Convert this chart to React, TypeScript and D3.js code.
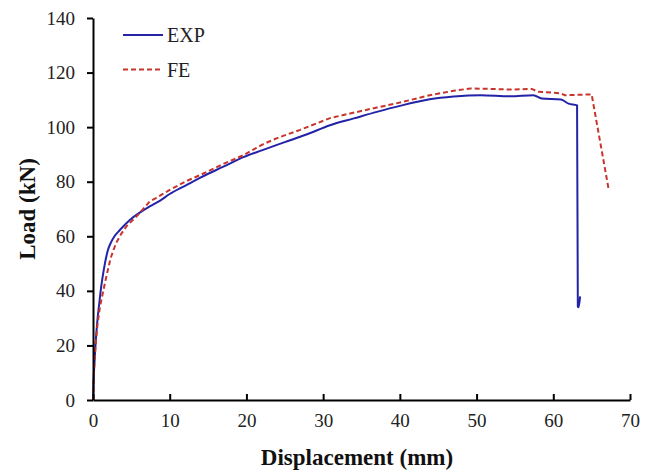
import React, { useEffect, useRef } from 'react'
import * as d3 from 'd3'

const expDisp = [0, 0.05, 0.12, 0.22, 0.32, 0.45, 0.6, 0.8, 1.0, 1.25, 1.55, 1.95, 2.3, 2.8, 3.5, 4.8, 6, 7.4, 8.7, 10, 12, 14, 17, 19.6, 22, 25, 28, 30.9, 34, 37, 40, 43.9, 47, 50.5, 54.4, 57.4, 58.5, 61, 62, 63.1, 63.2, 63.3, 63.5]
const expLoad = [0, 5, 10, 15, 20, 25, 30, 35, 40, 45, 50, 55, 57.5, 60, 62.3, 66, 68.5, 71, 73, 75.5, 78.5, 81.5, 85.5, 89, 91.5, 94.5, 97.5, 100.7, 103.2, 105.6, 107.8, 110.2, 111.2, 111.7, 111.3, 111.7, 110.5, 110.1, 108.6, 108, 34.2, 34, 38]

const feDisp = [0, 0.1, 0.2, 0.4, 0.6, 0.9, 1.3, 1.8, 2.3, 3.0, 3.7, 4.4, 5.2, 5.9, 7.4, 8.2, 10, 12, 14, 17, 19.6, 22, 24, 27, 30.9, 33.5, 37, 40, 43.9, 47, 49.2, 54.4, 57.2, 58, 61, 61.5, 65, 67.2]
const feLoad = [0, 8, 15, 22, 28, 34, 39.5, 46, 52, 57.5, 61, 63.8, 66, 68, 72.8, 74, 77, 80, 82.5, 86.5, 89.7, 93.5, 96, 99, 103.3, 105, 107.2, 109, 111.7, 113.3, 114.2, 113.8, 114, 113, 112.4, 111.7, 112, 77.5]

const xTicks = [0, 10, 20, 30, 40, 50, 60, 70]
const yTicks = [0, 20, 40, 60, 80, 100, 120, 140]

const seriesNames = ['EXP', 'FE']

export default function App() {
  const node = useRef<SVGSVGElement>(null)

  useEffect(() => {
    const svg = d3.select(node.current)
    svg.selectAll('*').remove()

    const font = '"Liberation Serif", "Times New Roman", serif'
    const x = d3.scaleLinear().domain([0, 70]).range([93, 630])
    const y = d3.scaleLinear().domain([0, 140]).range([400, 18])

    const smooth = d3.line<[number, number]>()
      .x(d => x(d[0]))
      .y(d => y(d[1]))
      .curve(d3.curveMonotoneX)
    const straight = d3.line<[number, number]>()
      .x(d => x(d[0]))
      .y(d => y(d[1]))

    const exp = expDisp.map((d, i) => [d, expLoad[i]] as [number, number])
    const fe = feDisp.map((d, i) => [d, feLoad[i]] as [number, number])

    svg.append('path')
      .attr('d', smooth(exp))
      .attr('fill', 'none')
      .attr('stroke', '#2323a8')
      .attr('stroke-width', 2)

    svg.append('path')
      .attr('d', straight(fe))
      .attr('fill', 'none')
      .attr('stroke', '#c8342c')
      .attr('stroke-width', 2)
      .attr('stroke-dasharray', '5,3')

    // y axis, ticks outside
    const yAxis = svg.append('g')
      .attr('transform', `translate(${x(0)},0)`)
      .call(d3.axisLeft(y).tickValues(yTicks).tickSize(6).tickPadding(12).tickSizeOuter(0))
    yAxis.select('.domain').attr('stroke', '#000').attr('stroke-width', 2)
    yAxis.selectAll('.tick line').attr('stroke', '#000').attr('stroke-width', 2)
    yAxis.selectAll('.tick text')
      .attr('font-family', font)
      .attr('font-size', 19)
      .attr('fill', '#222')

    // x axis, ticks inside
    const xAxis = svg.append('g')
      .attr('transform', `translate(0,${y(0)})`)
      .call(d3.axisBottom(x).tickValues(xTicks).tickSize(-6).tickPadding(14).tickSizeOuter(0))
    xAxis.select('.domain').attr('stroke', '#000').attr('stroke-width', 2)
    xAxis.selectAll('.tick line').attr('stroke', '#000').attr('stroke-width', 2)
    xAxis.selectAll('.tick text')
      .attr('font-family', font)
      .attr('font-size', 19)
      .attr('fill', '#222')

    svg.append('text')
      .attr('x', 357)
      .attr('y', 465)
      .attr('text-anchor', 'middle')
      .attr('font-family', font)
      .attr('font-weight', 'bold')
      .attr('font-size', 23)
      .attr('fill', '#111')
      .text('Displacement (mm)')

    svg.append('text')
      .attr('transform', 'translate(35,209) rotate(-90)')
      .attr('text-anchor', 'middle')
      .attr('font-family', font)
      .attr('font-weight', 'bold')
      .attr('font-size', 23)
      .attr('fill', '#111')
      .text('Load (kN)')

    // legend
    const legend = svg.append('g')
    const colors = ['#2323a8', '#c8342c']
    seriesNames.forEach((name, i) => {
      const ly = 35 + i * 34.5
      legend.append('line')
        .attr('x1', 123).attr('x2', 163)
        .attr('y1', ly).attr('y2', ly)
        .attr('stroke', colors[i])
        .attr('stroke-width', 2)
        .attr('stroke-dasharray', i === 1 ? '5,3' : null)
      legend.append('text')
        .attr('x', 167)
        .attr('y', ly + 7)
        .attr('font-family', font)
        .attr('font-size', 20)
        .attr('fill', '#222')
        .text(name)
    })
  }, [])

  return (
    <svg ref={node} width={658} height={474}
      style={{ position: 'absolute', left: 0, top: 0, background: '#fff' }} />
  )
}
